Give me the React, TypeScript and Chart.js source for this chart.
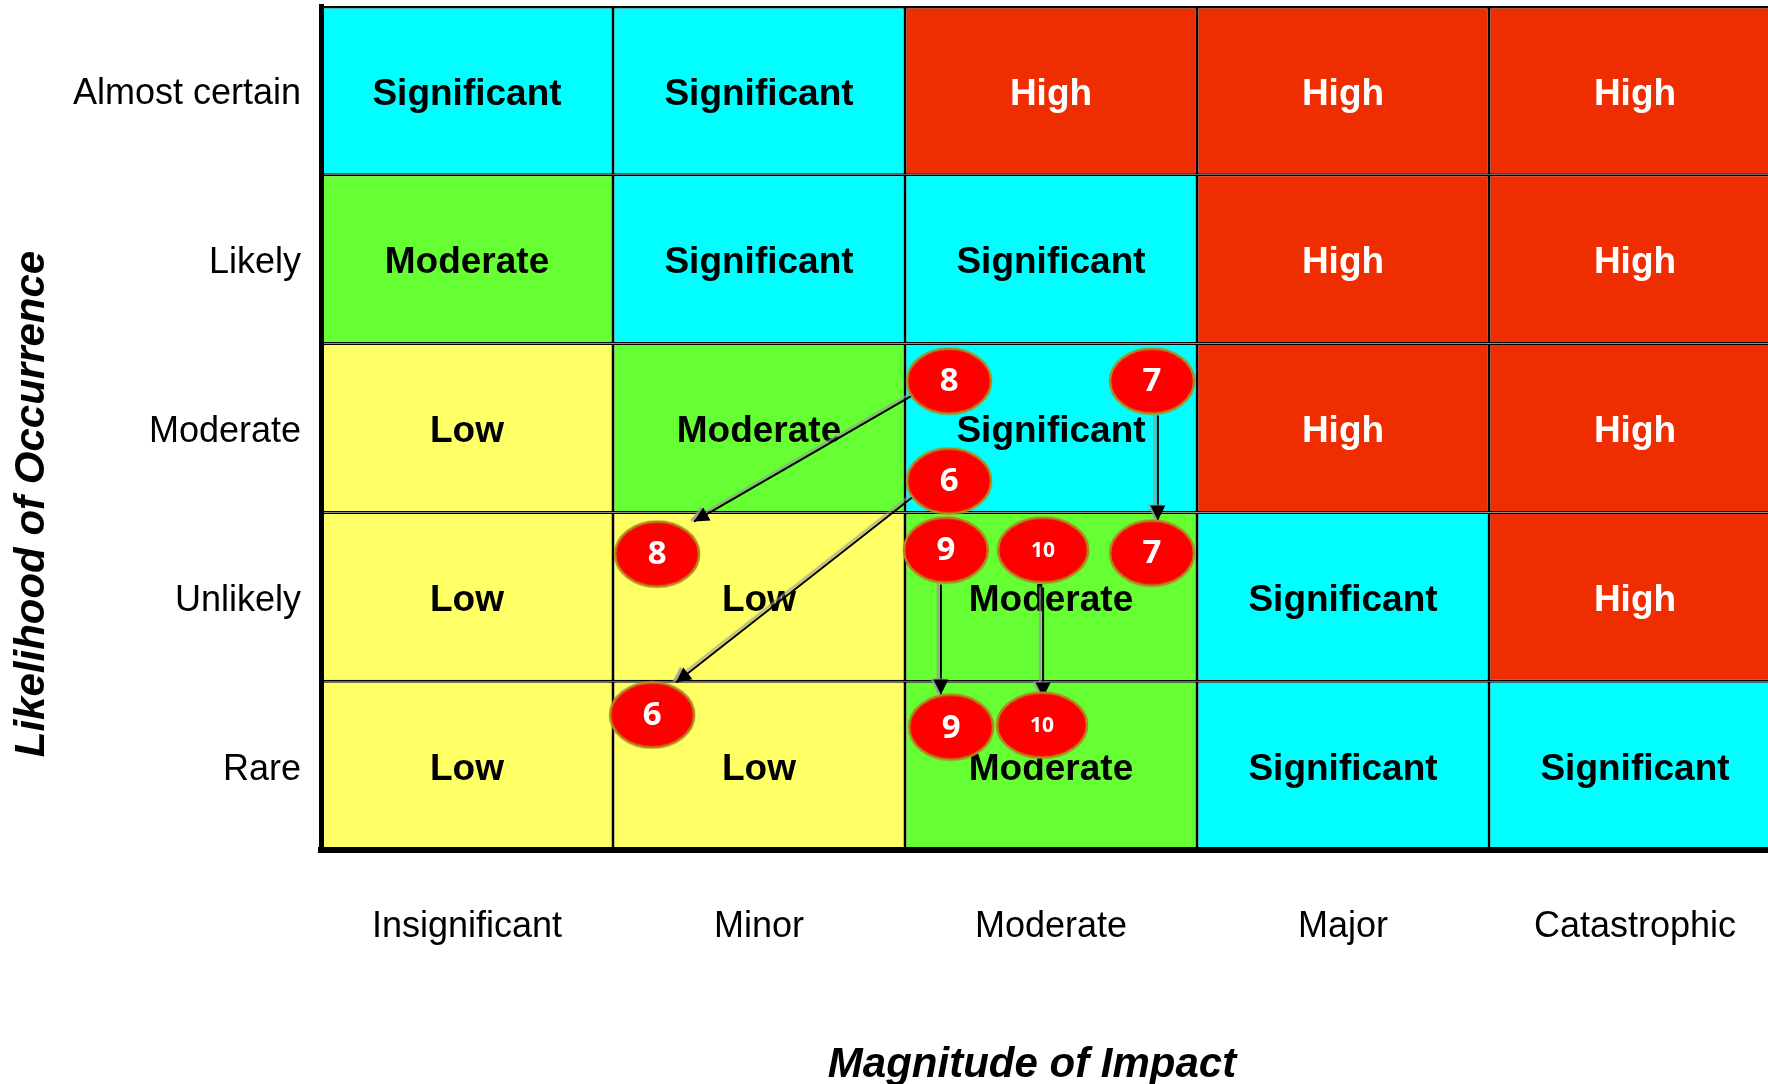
import React, { useEffect, useRef } from "react";
import { Chart, registerables } from "chart.js";

Chart.register(...registerables);

// ---- data ----
const impacts = ["Insignificant", "Minor", "Moderate", "Major", "Catastrophic"];
const likelihoods = ["Rare", "Unlikely", "Moderate", "Likely", "Almost certain"]; // bottom -> top

const rowRare = ["Low", "Low", "Moderate", "Significant", "Significant"];
const rowUnlikely = ["Low", "Low", "Moderate", "Significant", "High"];
const rowModerate = ["Low", "Moderate", "Significant", "High", "High"];
const rowLikely = ["Moderate", "Significant", "Significant", "High", "High"];
const rowAlmostCertain = ["Significant", "Significant", "High", "High", "High"];

const levelColors: Record<string, string> = {
  Low: "#FFFF66",
  Moderate: "#66FF33",
  Significant: "#00FFFF",
  High: "#EE2D00",
};

// risk markers (x: impact units 0..5, y: likelihood units 0..5)
const markerLabels = ["8", "7", "6", "9", "10", "7", "8", "6", "9", "10"];
const markerX = [2.151, 2.846, 2.151, 2.14, 2.473, 2.846, 1.151, 1.134, 2.158, 2.469];
const markerY = [2.778, 2.778, 2.186, 1.777, 1.777, 1.759, 1.753, 0.8, 0.728, 0.74];

// movement arrows
const arrowIds = ["8", "6", "7", "9", "10"];
const arrowFromX = [2.024, 2.024, 2.866, 2.123, 2.473];
const arrowFromY = [2.692, 2.088, 2.574, 1.573, 1.555];
const arrowToX = [1.277, 1.216, 2.866, 2.123, 2.473];
const arrowToY = [1.946, 0.992, 1.952, 0.921, 0.903];

const xTitle = "Magnitude of Impact";
const yTitle = "Likelihood of Occurrence";

const FONT = "'Liberation Sans', Arial, sans-serif";

function makeEllipse(w: number, h: number): HTMLCanvasElement {
  const c = document.createElement("canvas");
  c.width = w + 4;
  c.height = h + 4;
  const g = c.getContext("2d")!;
  g.beginPath();
  g.ellipse(c.width / 2, c.height / 2, w / 2, h / 2, 0, 0, Math.PI * 2);
  g.fillStyle = "#FF0000";
  g.fill();
  g.lineWidth = 2.5;
  g.strokeStyle = "#B08A1E";
  g.stroke();
  return c;
}

function zeroPadding(s: any) {
  s.paddingTop = 0;
  s.paddingBottom = 0;
  s.paddingLeft = 0;
  s.paddingRight = 0;
}

export default function App() {
  const ref = useRef<HTMLCanvasElement | null>(null);

  useEffect(() => {
    const canvas = ref.current!;
    canvas.width = 1800;
    canvas.height = 1084;

    const rows = [rowRare, rowUnlikely, rowModerate, rowLikely, rowAlmostCertain];
    const NROW = rows.length;
    const NARROW = arrowIds.length;

    const barDatasets = rows.map((row, r) => ({
      type: "bar" as const,
      label: likelihoods[r],
      data: row.map(() => [r, r + 1]),
      backgroundColor: row.map((l) => levelColors[l]),
      borderColor: "#000000",
      borderWidth: r === NROW - 1 ? { top: 2.4, left: 1.5, right: 1.5, bottom: 1.5 } : 1.5,
      borderSkipped: false,
      inflateAmount: 0,
      grouped: false,
      barPercentage: 1,
      categoryPercentage: 1,
      xAxisID: "x",
      yAxisID: "y",
      order: 3,
    }));

    const arrowDatasets = arrowIds.map((id, i) => ({
      type: "line" as const,
      label: "move " + id,
      data: [
        { x: arrowFromX[i], y: arrowFromY[i] },
        { x: arrowToX[i], y: arrowToY[i] },
      ],
      borderColor: "#000000",
      borderWidth: 2,
      pointRadius: 0,
      fill: false,
      xAxisID: "xm",
      yAxisID: "y",
      order: 2,
    }));

    const markerStyles = markerLabels.map((l) => (l.length > 1 ? makeEllipse(90, 65) : makeEllipse(84, 65)));

    const markerDataset = {
      type: "scatter" as const,
      label: "risks",
      data: markerX.map((x, i) => ({ x, y: markerY[i] })),
      pointStyle: markerStyles,
      pointRadius: 2,
      xAxisID: "xm",
      yAxisID: "y",
      order: 1,
    };

    const plugin = {
      id: "riskDecor",
      beforeDatasetDraw(chart: any, args: any) {
        const i = args.index;
        if (i >= NROW && i < NROW + NARROW) {
          const ctx = chart.ctx;
          ctx.save();
          ctx.shadowColor = "rgba(150,150,150,0.85)";
          ctx.shadowOffsetX = -3;
          ctx.shadowOffsetY = -1;
          ctx.shadowBlur = 1.5;
        }
      },
      afterDatasetDraw(chart: any, args: any) {
        const ctx = chart.ctx;
        const i = args.index;
        if (i < NROW) {
          const row = rows[i];
          ctx.save();
          ctx.font = "bold 37px " + FONT;
          ctx.textAlign = "center";
          ctx.textBaseline = "middle";
          args.meta.data.forEach((el: any, j: number) => {
            const c = el.getCenterPoint();
            ctx.fillStyle = row[j] === "High" ? "#FFFFFF" : "#000000";
            ctx.fillText(row[j], c.x, c.y + 4);
          });
          ctx.restore();
        } else if (i < NROW + NARROW) {
          const pts = args.meta.data;
          const a = pts[0];
          const b = pts[1];
          const ang = Math.atan2(b.y - a.y, b.x - a.x);
          const len = 15;
          const hw = 7.5;
          const bx = b.x - Math.cos(ang) * len;
          const by = b.y - Math.sin(ang) * len;
          ctx.beginPath();
          ctx.moveTo(b.x, b.y);
          ctx.lineTo(bx + Math.sin(ang) * hw, by - Math.cos(ang) * hw);
          ctx.lineTo(bx - Math.sin(ang) * hw, by + Math.cos(ang) * hw);
          ctx.closePath();
          ctx.fillStyle = "#000000";
          ctx.fill();
          ctx.restore();
        }
      },
      afterDatasetsDraw(chart: any) {
        const ctx = chart.ctx;
        const meta = chart.getDatasetMeta(NROW + NARROW);
        ctx.save();
        ctx.fillStyle = "#FFFFFF";
        ctx.textAlign = "center";
        ctx.textBaseline = "middle";
        meta.data.forEach((el: any, j: number) => {
          const lbl = markerLabels[j];
          ctx.font = (lbl.length > 1 ? "bold 21px " : "bold 33px ") + "'Open Sans', " + FONT;
          ctx.fillText(lbl, el.x, el.y + 1);
        });
        ctx.restore();
      },
      afterDraw(chart: any) {
        const ctx = chart.ctx;
        ctx.save();
        ctx.fillStyle = "#000000";
        ctx.font = "italic bold 42px " + FONT;
        ctx.textAlign = "center";
        ctx.textBaseline = "alphabetic";
        ctx.fillText(xTitle, 1032, 1077);
        ctx.translate(44, 504);
        ctx.rotate(-Math.PI / 2);
        ctx.fillText(yTitle, 0, 0);
        ctx.restore();
      },
    };

    const chart = new Chart(canvas, {
      type: "bar",
      data: {
        labels: impacts,
        datasets: [...barDatasets, ...arrowDatasets, markerDataset] as any,
      },
      options: {
        responsive: false,
        devicePixelRatio: 1,
        animation: false,
        events: [],
        layout: { autoPadding: false, padding: { left: 0, top: 6, right: 19, bottom: 0 } },
        plugins: {
          legend: { display: false },
          tooltip: { enabled: false },
        },
        scales: {
          x: {
            type: "category",
            position: "bottom",
            offset: true,
            grid: { display: false, drawTicks: false },
            border: { display: true, color: "#000000", width: 6, z: 1 },
            ticks: {
              color: "#000000",
              font: { size: 36, family: FONT },
              padding: 55,
              maxRotation: 0,
              autoSkip: false,
            },
            afterFit: (s: any) => {
              s.height = 234;
              zeroPadding(s);
            },
          },
          xm: {
            type: "linear",
            min: 0,
            max: 5,
            offset: false,
            grid: { offset: false },
            display: false,
            afterFit: (s: any) => zeroPadding(s),
          },
          y: {
            type: "linear",
            position: "left",
            min: 0,
            max: 5,
            offset: false,
            grid: { display: false, drawTicks: false },
            border: { display: true, color: "#000000", width: 5, z: 1 },
            afterBuildTicks: (s: any) => {
              s.ticks = likelihoods.map((_, i) => ({ value: i + 0.5 }));
            },
            ticks: {
              color: "#000000",
              font: { size: 36, family: FONT },
              padding: 20,
              labelOffset: 4,
              autoSkip: false,
              callback: (v: any) => likelihoods[Math.floor(Number(v))],
            },
            afterFit: (s: any) => {
              s.width = 321;
              zeroPadding(s);
            },
          },
        },
      } as any,
      plugins: [plugin],
    });

    return () => chart.destroy();
  }, []);

  return (
    <div
      style={{
        position: "fixed",
        left: 0,
        top: 0,
        width: 1768,
        height: 1084,
        overflow: "hidden",
        background: "#FFFFFF",
      }}
    >
      <canvas ref={ref} width={1800} height={1084} style={{ display: "block", width: 1800, height: 1084 }} />
    </div>
  );
}
